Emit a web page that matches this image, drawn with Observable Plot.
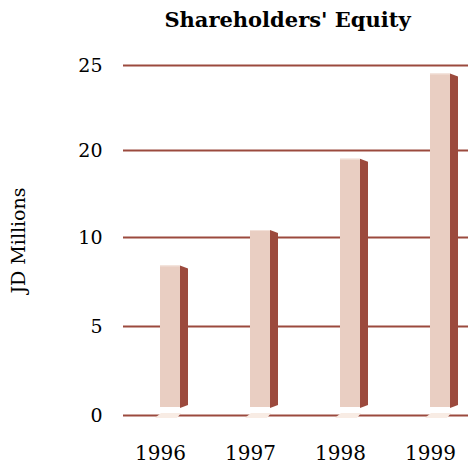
<!DOCTYPE html>
<html>
<head>
<meta charset="utf-8">
<script src="https://cdn.jsdelivr.net/npm/d3@7"></script>
<script src="https://cdn.jsdelivr.net/npm/@observablehq/plot@0.6"></script>
<style>
  body { margin: 0; background: #fff; }
  #title { height: 44px; width: 468px; box-sizing: border-box; padding-left: 107px; padding-top: 8px;
           text-align: center; font: bold 21px "DejaVu Serif", serif; line-height: 24px; color: #000; }
</style>
</head>
<body>
<div id="title">Shareholders' Equity</div>
<div id="chart"></div>
<script>
const years = ["1996", "1997", "1998", "1999"];
const equity = [8.4, 10.8, 19.0, 24.5];
const tickValues = [0, 5, 10, 20, 25];
const yLabel = "JD Millions";

const data = years.map((year, i) => ({year, value: equity[i]}));

const gridColor = "#9b4a3e";
const frontColor = "#e9cec2";
const sideColor = "#9c4a3d";
const shadowColor = "#f8ece4";

const bar3d = (index, scales) => {
  const {x, y} = scales;
  const g = d3.create("svg:g");
  const half = x.bandwidth ? x.bandwidth() / 2 : 0;
  const y0 = y(0);
  for (const d of data) {
    const xc = x(d.year) + half;
    const xr = xc + 20;
    const yt = y(d.value);
    const yb = y0 - 8;
    g.append("polygon")
      .attr("points", [[xc + 1, y0 - 2], [xc + 21, y0 - 2], [xc + 17, y0 + 3], [xc - 5, y0 + 3]].join(" "))
      .attr("fill", shadowColor);
    g.append("polygon")
      .attr("points", [[xr, yt], [xr + 8, yt + 3], [xr + 8, yb - 2], [xr, yb + 1]].join(" "))
      .attr("fill", sideColor);
    g.append("line")
      .attr("x1", xc).attr("x2", xr).attr("y1", yt + 0.5).attr("y2", yt + 0.5)
      .attr("stroke", "#f3e2da");
  }
  return g.node();
};

const chart = Plot.plot({
  width: 468,
  height: 420,
  marginTop: 21,
  marginBottom: 49,
  marginLeft: 123,
  marginRight: 0,
  style: {fontFamily: "DejaVu Serif, serif", fontSize: "18px", color: "#000", background: "#fff"},
  x: {type: "band", domain: years, range: [115, 475], padding: 0},
  y: {type: "linear", domain: tickValues, range: [371, 282, 193, 106, 21]},
  marks: [
    Plot.ruleY(tickValues, {stroke: gridColor, strokeWidth: 2.2}),
    Plot.barY(data, {x: "year", y: "value", fill: frontColor, insetLeft: 45, insetRight: 25, insetBottom: 8}),
    bar3d,
    Plot.axisX({tickSize: 0, tickPadding: 30, fontSize: 20, label: null}),
    Plot.axisY({ticks: tickValues, tickFormat: d => String(d), tickSize: 0, tickPadding: 21, fontSize: 19,
                label: yLabel, labelAnchor: "center", labelArrow: "none", labelOffset: 112})
  ]
});
document.getElementById("chart").appendChild(chart);
</script>
</body>
</html>
